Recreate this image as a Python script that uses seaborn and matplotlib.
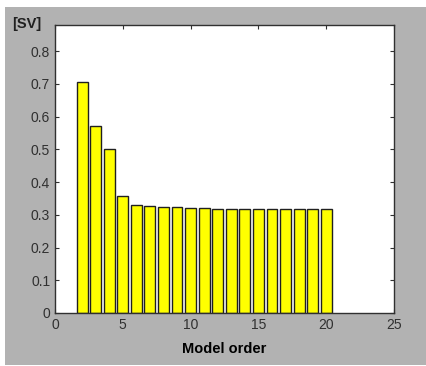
import matplotlib
matplotlib.use("Agg")
import matplotlib.pyplot as plt
import matplotlib.patches as mpatches
import seaborn as sns
import pandas as pd

# Singular values per model order
model_order = [2, 3, 4, 5, 6, 7, 8, 9, 10, 11, 12, 13, 14, 15, 16, 17, 18, 19, 20]
sv_values = [0.707, 0.572, 0.501, 0.356, 0.331, 0.328, 0.325, 0.325, 0.322, 0.322,
             0.318, 0.318, 0.318, 0.318, 0.318, 0.318, 0.318, 0.318, 0.318]
x_ticks = [0, 5, 10, 15, 20, 25]
y_ticks = [0, 0.1, 0.2, 0.3, 0.4, 0.5, 0.6, 0.7, 0.8]

df = pd.DataFrame({"order": model_order, "sv": sv_values})

sns.set_theme(style="white")
plt.rcParams["font.family"] = ["Liberation Sans", "DejaVu Sans"]

grey = "#b2b2b2"
fig = plt.figure(figsize=(4.27, 3.66), dpi=100)
fig.patch.set_facecolor("white")
# grey window panel
fig.add_artist(mpatches.Rectangle((5 / 427, 1 / 366), 422 / 427, 358 / 366,
                                  transform=fig.transFigure, facecolor=grey,
                                  edgecolor="none", zorder=-10))

ax = fig.add_axes([55 / 427, 53 / 366, 339 / 427, 288 / 366])
ax.set_facecolor("white")

sns.barplot(data=df, x="order", y="sv", native_scale=True, width=0.8,
            color="#ffff00", saturation=1, edgecolor="#202020", linewidth=1,
            ax=ax)

ax.set_xlim(0, 25)
ax.set_ylim(0, 0.88)
ax.set_xticks(x_ticks)
ax.set_xticklabels([str(t) for t in x_ticks])
ax.set_yticks(y_ticks)
ax.set_yticklabels([f"{t:g}" for t in y_ticks])
ax.tick_params(direction="in", length=3, width=0.8, colors="#303030",
               labelsize=10, top=True, right=True, bottom=True, left=True,
               labelcolor="#303030", pad=3.5)

for s in ax.spines.values():
    s.set_visible(True)
    s.set_color("#303030")
    s.set_linewidth(1)

ax.set_xlabel("Model order", fontsize=10.5, fontweight="bold", color="black", labelpad=7)
ax.set_ylabel("")
fig.text(12 / 427, 1 - 28 / 366, "[SV]", fontsize=10.5, fontweight="bold",
         color="#202020", ha="left", va="baseline")

fig.savefig("out.png", dpi=100)
